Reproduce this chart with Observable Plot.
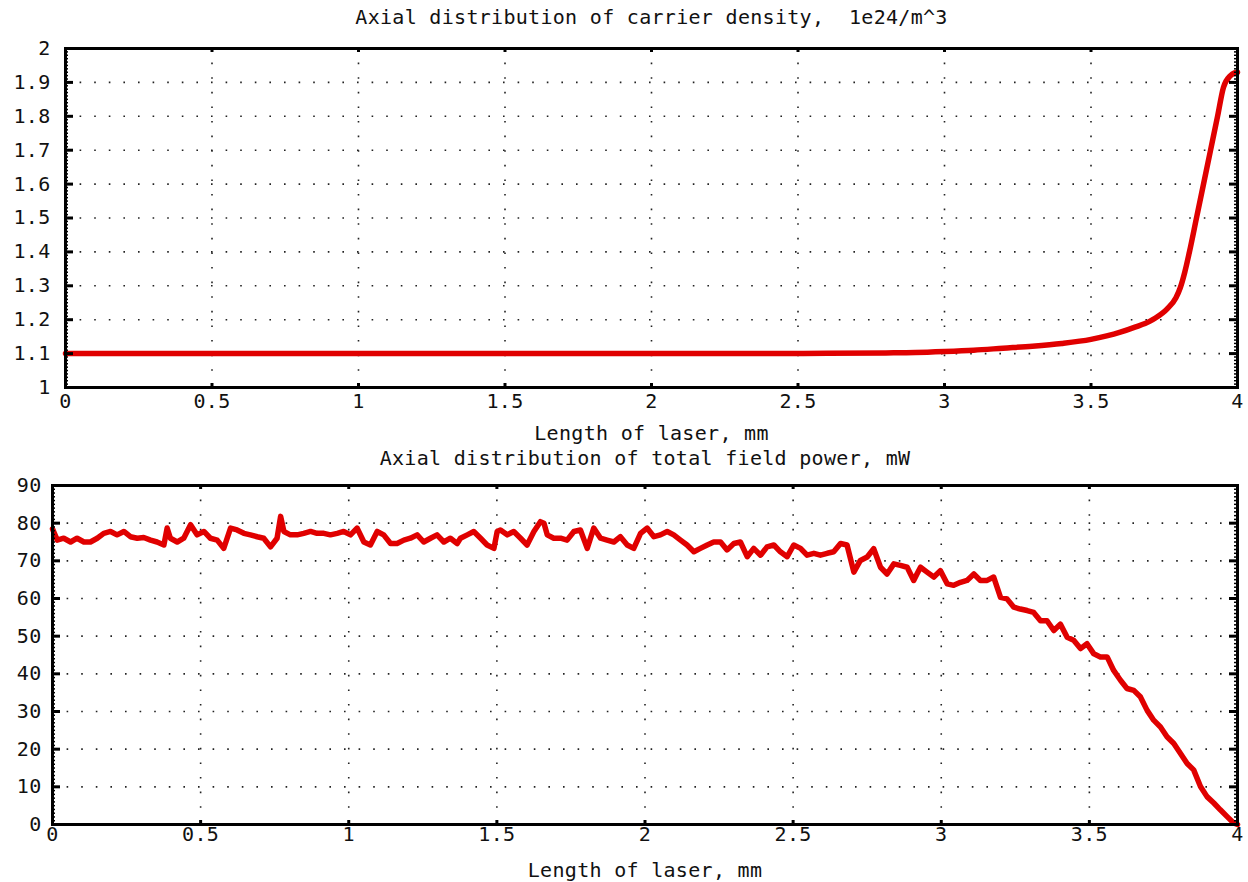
<!DOCTYPE html>
<html><head><meta charset="utf-8">
<script src="https://cdn.jsdelivr.net/npm/d3@7"></script>
<script src="https://cdn.jsdelivr.net/npm/@observablehq/plot@0.6"></script>
<style>
body{margin:0;background:#fff;}
#chart{position:relative;width:1248px;height:882px;overflow:hidden;}
#chart svg{display:block;}
</style></head><body><div id="chart"></div>
<script>
// ---- Data ----
const densityTitle = "Axial distribution of carrier density,\u00a0 1e24/m^3";
const powerTitle = "Axial distribution of total field power, mW";
const xLabelText = "Length of laser, mm";

const xTicks = [0, 0.5, 1, 1.5, 2, 2.5, 3, 3.5, 4];
const densityTicks = [1, 1.1, 1.2, 1.3, 1.4, 1.5, 1.6, 1.7, 1.8, 1.9, 2];
const powerTicks = [0, 10, 20, 30, 40, 50, 60, 70, 80, 90];

const densityX = [0, 0.5, 1, 1.5, 2, 2.4, 2.6, 2.8, 2.9, 3.0, 3.1, 3.2, 3.3, 3.4, 3.5, 3.6, 3.65, 3.7, 3.72, 3.76, 3.79, 3.805, 3.82, 3.836, 3.86, 3.884, 3.908, 3.932, 3.952, 3.976, 3.99, 4.0];
const densityY = [1.1, 1.1, 1.1, 1.1, 1.1, 1.1, 1.101, 1.102, 1.103, 1.106, 1.11, 1.116, 1.122, 1.13, 1.142, 1.163, 1.178, 1.195, 1.205, 1.232, 1.265, 1.295, 1.34, 1.4, 1.5, 1.6, 1.7, 1.8, 1.885, 1.92, 1.928, 1.93];

const powerX = [
0.000,0.016,0.038,0.061,0.083,0.106,0.128,0.151,0.173,0.196,0.218,0.241,0.263,0.286,0.308,0.331,0.353,0.376,0.387,0.398,
0.421,0.443,0.466,0.488,0.511,0.533,0.556,0.578,0.601,0.623,0.646,0.668,0.691,0.713,0.736,0.758,0.770,0.781,0.803,0.826,
0.848,0.871,0.893,0.916,0.938,0.961,0.983,1.006,1.028,1.051,1.073,1.096,1.118,1.141,1.163,1.186,1.208,1.231,1.253,1.276,
1.298,1.321,1.343,1.366,
1.377,1.400,1.422,1.445,1.467,1.490,1.501,1.512,1.535,1.557,1.580,1.602,1.625,1.647,1.659,1.670,1.692,1.715,1.737,1.760,
1.782,1.805,1.827,1.850,1.872,1.895,1.917,1.940,1.962,1.985,2.007,2.030,2.052,2.075,2.097,2.120,2.142,2.165,2.187,2.210,
2.232,2.255,2.277,2.300,2.322,2.345,2.367,2.390,2.412,2.435,2.457,2.480,2.502,2.525,2.547,2.570,2.592,2.615,2.637,2.660,
2.682,2.705,
2.727,2.750,2.772,2.795,2.817,2.840,2.862,2.885,2.907,2.918,2.930,2.952,2.975,2.997,3.020,3.042,3.065,3.087,3.110,3.132,
3.155,3.177,3.200,3.222,3.245,3.267,3.290,3.312,3.335,3.357,3.380,3.402,3.425,3.447,3.470,3.492,3.515,3.537,3.560,3.582,
3.605,3.627,3.650,3.672,3.695,3.717,3.740,3.762,3.785,3.807,3.830,3.852,3.875,3.897,3.920,3.942,3.965,3.987,4.000];
const powerY = [
78.5,75.5,76,75,76,75,75,76,77.3,77.8,76.9,77.8,76.4,76,76.2,75.5,75,74.2,78.7,76,
75,76,79.6,76.9,77.8,76,75.5,73.3,78.7,78.2,77.3,76.9,76.4,76,73.7,76,81.8,77.8,76.9,76.9,
77.3,77.8,77.3,77.3,76.9,77.3,77.8,76.9,78.7,75,74.2,77.8,76.9,74.6,74.6,75.5,76,76.9,75,76,
76.9,75,76,74.6,
76,76.9,77.8,76,74.2,73.3,77.8,78.2,76.9,77.8,76,74.2,77.8,80.4,80,76.9,76,76,75.5,77.8,
78.2,73.3,78.7,76,75.5,75,76.4,74.2,73.3,77.3,78.7,76.4,76.9,77.8,76.9,75.5,74.2,72.4,73.3,74.2,
75,75,72.9,74.6,75,71.1,73.3,71.5,73.7,74.2,72.4,71.1,74.2,73.3,71.5,72,71.5,72,72.4,74.6,
74.2,67,
70.1,71,73.2,68.3,66.5,69.2,68.8,68.3,64.8,66.5,68.3,67,65.7,67.4,63.9,63.5,64.3,64.8,66.5,64.8,
64.8,65.7,60.3,59.9,57.7,57.2,56.8,56.3,54.1,54.1,51.5,53.2,49.7,48.9,46.7,48,45.3,44.5,44.5,40.9,
38.3,36.1,35.6,33.9,30.3,27.7,25.9,23.3,21.5,18.9,16.2,14.5,10.1,7.4,5.7,3.9,2.1,0.4,0];

// ---- Drawing ----
const FONT = "'DejaVu Sans Mono', 'Liberation Mono', monospace";
const RED = "#e00000";

function panel(cfg) {
  const frameW = cfg.width - cfg.ml - cfg.mr;
  const frameH = cfg.height - cfg.mt - cfg.mb;
  const data = cfg.xs.map((x, i) => ({x, y: cfg.ys[i]}));
  const inner = cfg.yTicks.slice(1, -1);
  const innerX = xTicks.slice(1, -1);
  const grid = {stroke: "#222", strokeWidth: 1.6, strokeDasharray: "1.6,13"};
  return Plot.plot({
    width: cfg.width, height: cfg.height,
    marginLeft: cfg.ml, marginRight: cfg.mr, marginTop: cfg.mt, marginBottom: cfg.mb,
    style: {fontFamily: FONT, fontSize: "20px", letterSpacing: "0.3px", color: "#111", background: "white", overflow: "visible"},
    x: {domain: [0, 4]},
    y: {domain: cfg.yDomain},
    marks: [
      Plot.ruleY(inner, grid),
      Plot.ruleX(innerX, grid),
      Plot.line(data, {x: "x", y: "y", stroke: RED, strokeWidth: cfg.lineWidth, curve: cfg.curve || "linear", strokeLinejoin: "round"}),
      Plot.tickY(cfg.minorY, {stroke: "black", strokeWidth: 1.5, insetRight: frameW - 3}),
      Plot.tickY(cfg.minorY, {stroke: "black", strokeWidth: 1.5, insetLeft: frameW - 3}),
      Plot.tickY(inner, {stroke: "black", strokeWidth: 3, insetRight: frameW - 8}),
      Plot.tickY(inner, {stroke: "black", strokeWidth: 3, insetLeft: frameW - 8}),
      Plot.tickX(innerX, {stroke: "black", strokeWidth: 3, insetBottom: frameH - 4}),
      Plot.tickX(innerX, {stroke: "black", strokeWidth: 3, insetTop: frameH - 4}),
      Plot.frame({stroke: "black", strokeWidth: 3}),
      Plot.axisX(xTicks, {tickSize: 0, tickPadding: cfg.xPad, tickFormat: d => String(d), label: null}),
      Plot.axisY(cfg.yTicks, {tickSize: 0, tickPadding: cfg.yPad, tickFormat: d => String(d), label: null}),
      Plot.text([xLabelText], {text: d => d, frameAnchor: "bottom", dy: 46, lineAnchor: "middle"}),
      Plot.text([cfg.title], {text: d => d, frameAnchor: "top", dy: cfg.titleDy, lineAnchor: "middle"})
    ]
  });
}

const minorDensity = d3.range(100, 201).map(i => i / 100);
const minorPower = d3.range(0, 91);

const densityPlot = panel({
  xs: densityX, ys: densityY, yTicks: densityTicks, yDomain: [1, 2], minorY: minorDensity,
  title: densityTitle, width: 1248, height: 445, ml: 65, mr: 11, mt: 48, mb: 58,
  xPad: 6, yPad: 15, titleDy: -31, curve: "monotone-x", lineWidth: 5.5
});
const powerPlot = panel({
  xs: powerX, ys: powerY, yTicks: powerTicks, yDomain: [0, 90], minorY: minorPower,
  title: powerTitle, width: 1248, height: 437, ml: 52, mr: 11, mt: 40, mb: 58,
  xPad: 2, yPad: 11, titleDy: -27, lineWidth: 5.5
});
document.getElementById("chart").append(densityPlot, powerPlot);
</script>
</body></html>
